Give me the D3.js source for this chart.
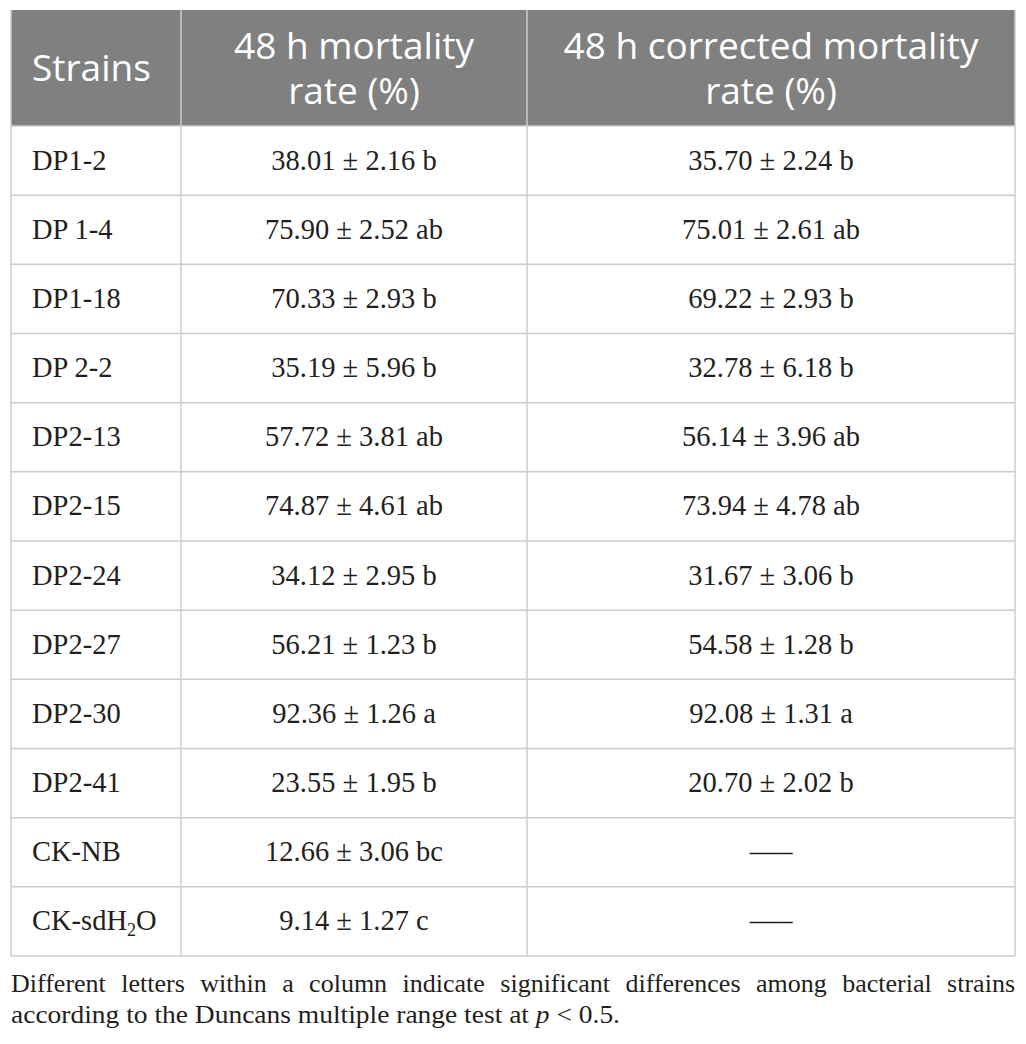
<!DOCTYPE html>
<html>
<head>
<meta charset="utf-8">
<script src="https://cdn.jsdelivr.net/npm/d3@7"></script>
<style>
  body { margin: 0; background: #fff; }
  svg { display: block; }
</style>
</head>
<body>
<script>
// table values
var strains = ['DP1-2', 'DP 1-4', 'DP1-18', 'DP 2-2', 'DP2-13', 'DP2-15', 'DP2-24', 'DP2-27', 'DP2-30', 'DP2-41', 'CK-NB', 'CK-sdH2O']
var mortality = [38.01, 75.90, 70.33, 35.19, 57.72, 74.87, 34.12, 56.21, 92.36, 23.55, 12.66, 9.14]
var mortalitySd = [2.16, 2.52, 2.93, 5.96, 3.81, 4.61, 2.95, 1.23, 1.26, 1.95, 3.06, 1.27]
var mortalityLetter = ['b', 'ab', 'b', 'b', 'ab', 'ab', 'b', 'b', 'a', 'b', 'bc', 'c']
var corrected = [35.70, 75.01, 69.22, 32.78, 56.14, 73.94, 31.67, 54.58, 92.08, 20.70, null, null]
var correctedSd = [2.24, 2.61, 2.93, 6.18, 3.96, 4.78, 3.06, 1.28, 1.31, 2.02, null, null]
var correctedLetter = ['b', 'ab', 'b', 'b', 'ab', 'ab', 'b', 'b', 'a', 'b', null, null]
var headers = [['Strains'], ['48 h mortality', 'rate (%)'], ['48 h corrected mortality', 'rate (%)']]
var footnote = ['Different letters within a column indicate significant differences among bacterial strains',
  'according to the Duncans multiple range test at ']

var W = 1026, H = 1044
var left = 11, right = 1015
var headTop = 10, headBottom = 126, tableBottom = 956
var colEdges = [left, 181, 527, right]

var svg = d3.select('body').append('svg')
  .attr('width', W).attr('height', H)

var y = d3.scaleBand().domain(d3.range(strains.length)).range([headBottom, tableBottom])

// header band
svg.append('rect')
  .attr('x', left).attr('y', headTop)
  .attr('width', right - left).attr('height', headBottom - headTop)
  .attr('fill', '#808080')

var grid = '#cccccc'

// row lines
svg.selectAll('.hline').data(d3.range(strains.length + 1)).enter().append('line')
  .attr('x1', left).attr('x2', right)
  .attr('y1', function(i){ return i < strains.length ? y(i) : tableBottom })
  .attr('y2', function(i){ return i < strains.length ? y(i) : tableBottom })
  .attr('stroke', grid).attr('stroke-width', 1.5)

// column lines
svg.selectAll('.vline').data(colEdges).enter().append('line')
  .attr('x1', function(d){ return d }).attr('x2', function(d){ return d })
  .attr('y1', headTop).attr('y2', tableBottom)
  .attr('stroke', grid)
  .attr('stroke-width', 1.5)

// header text
headers.forEach(function(lines, c){
  var cx = c === 0 ? 32 : (colEdges[c] + colEdges[c + 1]) / 2
  var ys = lines.length === 1 ? [81] : [59, 104]
  lines.forEach(function(line, k){
    svg.append('text')
      .attr('font-family', '"Open Sans", sans-serif')
      .attr('font-size', 37)
      .attr('fill', '#fff')
      .attr('text-anchor', c === 0 ? 'start' : 'middle')
      .attr('x', cx).attr('y', ys[k])
      .text(line)
  })
})

var fmt = d3.format('.2f')
var serif = '"Liberation Serif", "Times New Roman", serif'

var rows = svg.selectAll('.row').data(strains).enter().append('g')
  .attr('transform', function(d, i){ return 'translate(0,' + (y(i) + y.bandwidth() / 2 + 9) + ')' })
  .attr('font-family', serif).attr('font-size', 28.5).attr('fill', '#231f20')

rows.append('text').attr('x', 32)
  .each(function(d){
    var t = d3.select(this)
    if(d === 'CK-sdH2O'){
      t.append('tspan').text('CK-sdH')
      t.append('tspan').attr('font-size', 18).attr('dy', 6).text('2')
      t.append('tspan').attr('dy', -6).text('O')
    } else {
      t.text(d)
    }
  })

rows.append('text')
  .attr('x', (colEdges[1] + colEdges[2]) / 2).attr('text-anchor', 'middle')
  .text(function(d, i){ return fmt(mortality[i]) + ' \u00b1 ' + fmt(mortalitySd[i]) + ' ' + mortalityLetter[i] })

rows.append('text')
  .attr('x', (colEdges[2] + colEdges[3]) / 2).attr('text-anchor', 'middle')
  .text(function(d, i){
    if(corrected[i] == null) return '\u2014\u2013'
    return fmt(corrected[i]) + ' \u00b1 ' + fmt(correctedSd[i]) + ' ' + correctedLetter[i]
  })

// footnote, first line justified by widening word gaps
var note = svg.append('g').attr('font-family', serif).attr('font-size', 26).attr('fill', '#231f20')
var n1 = note.append('text').attr('x', left).attr('y', 992).text(footnote[0])
var w1 = n1.node().getComputedTextLength()
var gaps = footnote[0].split(' ').length - 1
if(w1 < right - left){
  n1.attr('word-spacing', (right - left - w1) / gaps)
} else {
  n1.attr('textLength', right - left).attr('lengthAdjust', 'spacingAndGlyphs')
}
var n2 = note.append('text').attr('x', left).attr('y', 1023)
  .attr('textLength', 609).attr('lengthAdjust', 'spacingAndGlyphs')
n2.append('tspan').text(footnote[1])
n2.append('tspan').attr('font-style', 'italic').text('p')
n2.append('tspan').text(' < 0.5.')
</script>
</body>
</html>
